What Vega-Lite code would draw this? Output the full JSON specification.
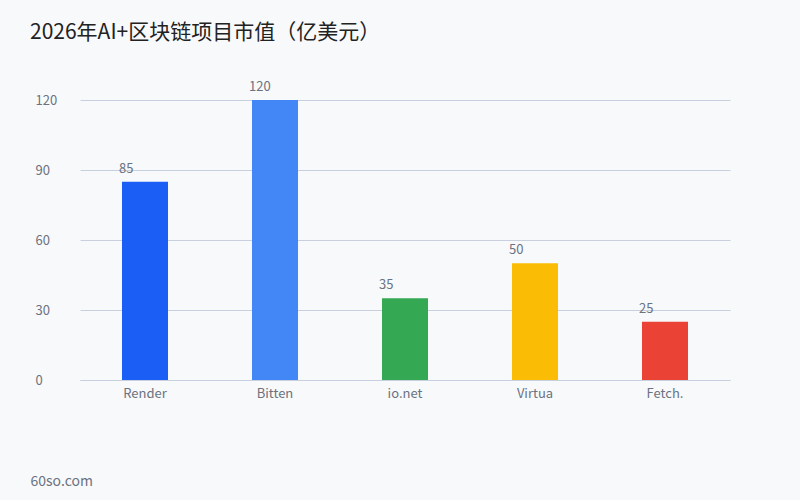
{
  "$schema": "https://vega.github.io/schema/vega-lite/v6.json",
  "width": 650,
  "height": 280,
  "autosize": "none",
  "padding": {"left": 80, "top": 100, "right": 70, "bottom": 120},
  "background": "#f8f9fb",
  "title": {
    "text": "2026年AI+区块链项目市值（亿美元）",
    "anchor": "start",
    "frame": "group",
    "dx": -50,
    "offset": 38,
    "fontSize": 21,
    "fontWeight": "normal",
    "color": "#222222",
    "font": "Noto Sans CJK SC"
  },
  "config": {
    "view": {"stroke": null},
    "font": "Noto Sans CJK SC",
    "axis": {"labelFont": "Noto Sans CJK SC", "titleFont": "Noto Sans CJK SC"}
  },
  "data": {
    "values": [
      {"project": "Render", "value": 85, "color": "#1b5ef5"},
      {"project": "Bitten", "value": 120, "color": "#4287f5"},
      {"project": "io.net", "value": 35, "color": "#34a853"},
      {"project": "Virtua", "value": 50, "color": "#fbbc05"},
      {"project": "Fetch.", "value": 25, "color": "#ea4335"}
    ]
  },
  "encoding": {
    "x": {
      "field": "project",
      "type": "nominal",
      "sort": null,
      "scale": {"paddingInner": 0.646, "paddingOuter": 0.323},
      "axis": {
        "title": "60so.com",
        "titleAnchor": "start",
        "titleAlign": "left",
        "titleBaseline": "alphabetic",
        "titleX": -50,
        "titleY": 105,
        "titleFontSize": 14,
        "titleFontWeight": "normal",
        "titleColor": "#6b7280",
        "labelAngle": 0,
        "labelColor": "#6b7280",
        "labelFontSize": 13,
        "labelPadding": 7,
        "ticks": false,
        "domain": true,
        "domainColor": "#c8d0e0"
      }
    },
    "y": {
      "field": "value",
      "type": "quantitative",
      "scale": {"domain": [0, 120], "nice": false},
      "axis": {
        "title": null,
        "values": [0, 30, 60, 90, 120],
        "labelAlign": "left",
        "labelPadding": 45,
        "ticks": false,
        "tickSize": 0,
        "domain": false,
        "labelColor": "#6b7280",
        "labelFontSize": 13,
        "gridColor": "#c8d0e0",
        "gridWidth": 1
      }
    }
  },
  "layer": [
    {
      "mark": {"type": "bar"},
      "encoding": {
        "color": {"field": "color", "type": "nominal", "scale": null, "legend": null}
      }
    },
    {
      "mark": {"type": "text", "align": "left", "baseline": "middle", "dx": -3, "dy": -13, "fontSize": 13, "color": "#6b7280"},
      "encoding": {
        "x": {"field": "project", "type": "nominal", "sort": null, "bandPosition": 0},
        "text": {"field": "value", "type": "quantitative"}
      }
    }
  ]
}
